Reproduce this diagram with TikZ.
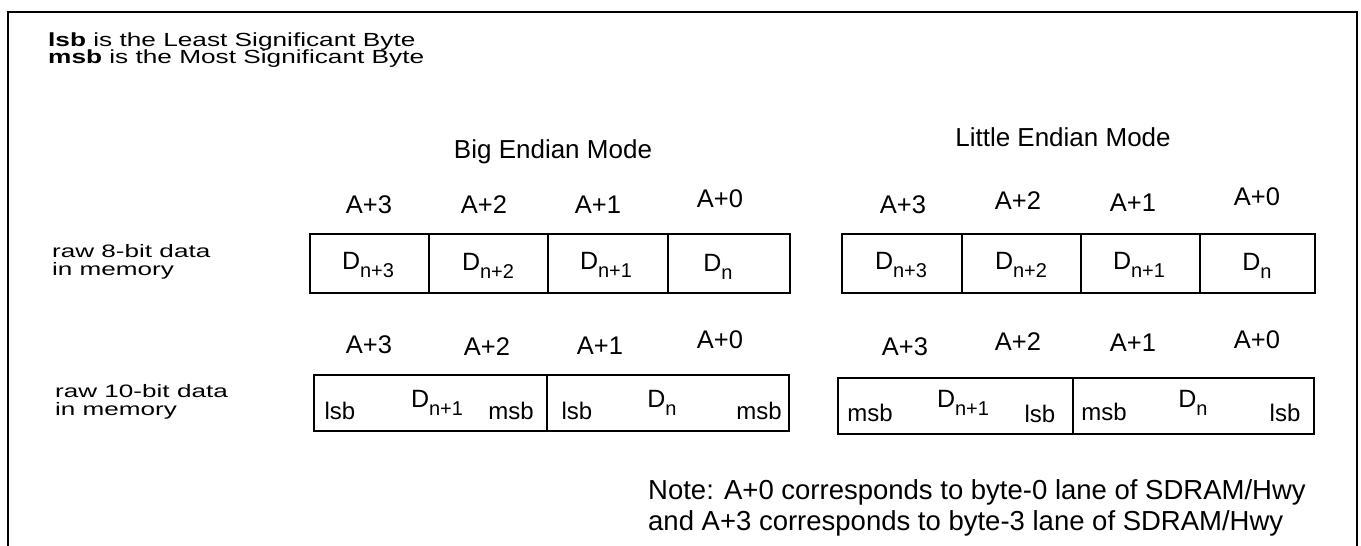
\documentclass[tikz,border=0pt]{standalone}
\usepackage{fontspec}
\setmainfont{Liberation Sans}
\newfontfamily\widehdr{Liberation Sans}[FakeStretch=1.38]
\newfontfamily\widelab{Liberation Sans}[FakeStretch=1.45]
\newcommand\fsz[1]{\fontsize{#1}{#1}\selectfont}
\newcommand\Dsub[1]{D\raisebox{-0.3em}{\fsz{20}#1}}
\begin{document}
\begin{tikzpicture}[x=1pt,y=-1pt,
  hdr/.style={inner sep=0pt, font=\widehdr\fsz{19}, anchor=base west},
  lab/.style={inner sep=0pt, font=\widelab\fsz{18}, anchor=base west},
  ttl/.style={inner sep=0pt, font=\fsz{26}, anchor=base},
  addr/.style={inner sep=0pt, font=\fsz{25.5}},
  dlab/.style={inner sep=0pt, font=\fsz{25}},
  bit/.style={inner sep=0pt, font=\fsz{24}},
  note/.style={inner sep=0pt, font=\fsz{27.5}, anchor=base west},
  cellbox/.style={draw, line width=2pt},
  frame/.style={draw, line width=2.5pt}]
\useasboundingbox (0,0) rectangle (1361,546);
\draw[frame] (8,546) -- (8,12) -- (1357,12) -- (1357,546);

% header
\node[hdr] (h1) at (48,46) {\textbf{lsb} is the Least Significant Byte};
\node[hdr] (h2) at (48,63) {\textbf{msb} is the Most Significant Byte};

% titles
\node[ttl] (tbig) at (553,158) {Big Endian Mode};
\node[ttl] (tlit) at (1063,146) {Little Endian Mode};

% row labels
\node[lab] (r1a) at (52,257) {raw 8-bit data};
\node[lab] (r1b) at (52,275) {in memory};
\node[lab] (r2a) at (55,397) {raw 10-bit data};
\node[lab] (r2b) at (55,415) {in memory};

% row 1 address labels
\node[addr] (a13) at (369,205) {A+3};
\node[addr] (a12) at (484,205) {A+2};
\node[addr] (a11) at (598,205) {A+1};
\node[addr] (a10) at (720,199) {A+0};
\node[addr] (l13) at (903,205) {A+3};
\node[addr] (l12) at (1018,201) {A+2};
\node[addr] (l11) at (1133,203) {A+1};
\node[addr] (l10) at (1257,197) {A+0};

% row 1 boxes
\draw[cellbox] (310,234) rectangle (790,293);
\draw[cellbox] (429,234) -- (429,293) (548,234) -- (548,293) (668,234) -- (668,293);
\draw[cellbox] (842,234) rectangle (1315,293);
\draw[cellbox] (962,234) -- (962,293) (1081,234) -- (1081,293) (1200,234) -- (1200,293);

\node[dlab] (d13) at (368,265) {\Dsub{n+3}};
\node[dlab] (d12) at (488,266) {\Dsub{n+2}};
\node[dlab] (d11) at (606,265) {\Dsub{n+1}};
\node[dlab] (d10) at (718,267) {\Dsub{n}};
\node[dlab] (e13) at (901,265) {\Dsub{n+3}};
\node[dlab] (e12) at (1021,265) {\Dsub{n+2}};
\node[dlab] (e11) at (1139,265) {\Dsub{n+1}};
\node[dlab] (e10) at (1257,266) {\Dsub{n}};

% row 2 address labels
\node[addr] (a23) at (369,345) {A+3};
\node[addr] (a22) at (487,347) {A+2};
\node[addr] (a21) at (600,346) {A+1};
\node[addr] (a20) at (720,340) {A+0};
\node[addr] (l23) at (905,347) {A+3};
\node[addr] (l22) at (1018,342) {A+2};
\node[addr] (l21) at (1133,343) {A+1};
\node[addr] (l20) at (1257,340) {A+0};

% row 2 boxes
\draw[cellbox] (314,375) rectangle (789,431);
\draw[cellbox] (547,375) -- (547,431);
\draw[cellbox] (838,378) rectangle (1314,434);
\draw[cellbox] (1073,378) -- (1073,434);

\node[bit] (s1) at (340,411) {lsb};
\node[dlab] (s2) at (437,403) {\Dsub{n+1}};
\node[bit] (s3) at (511,411) {msb};
\node[bit] (s4) at (577,411) {lsb};
\node[dlab] (s5) at (662,403) {\Dsub{n}};
\node[bit] (s6) at (759,411) {msb};
\node[bit] (t1) at (870,413) {msb};
\node[dlab] (t2) at (963,403) {\Dsub{n+1}};
\node[bit] (t3) at (1040,414) {lsb};
\node[bit] (t4) at (1104,412) {msb};
\node[dlab] (t5) at (1193,403) {\Dsub{n}};
\node[bit] (t6) at (1285,413) {lsb};

% note
\node[note] (n1) at (648,499) {Note: A+0 corresponds to byte-0 lane of SDRAM/Hwy};
\node[note] (n2) at (648,530) {and A+3 corresponds to byte-3 lane of SDRAM/Hwy};
\end{tikzpicture}
\end{document}
